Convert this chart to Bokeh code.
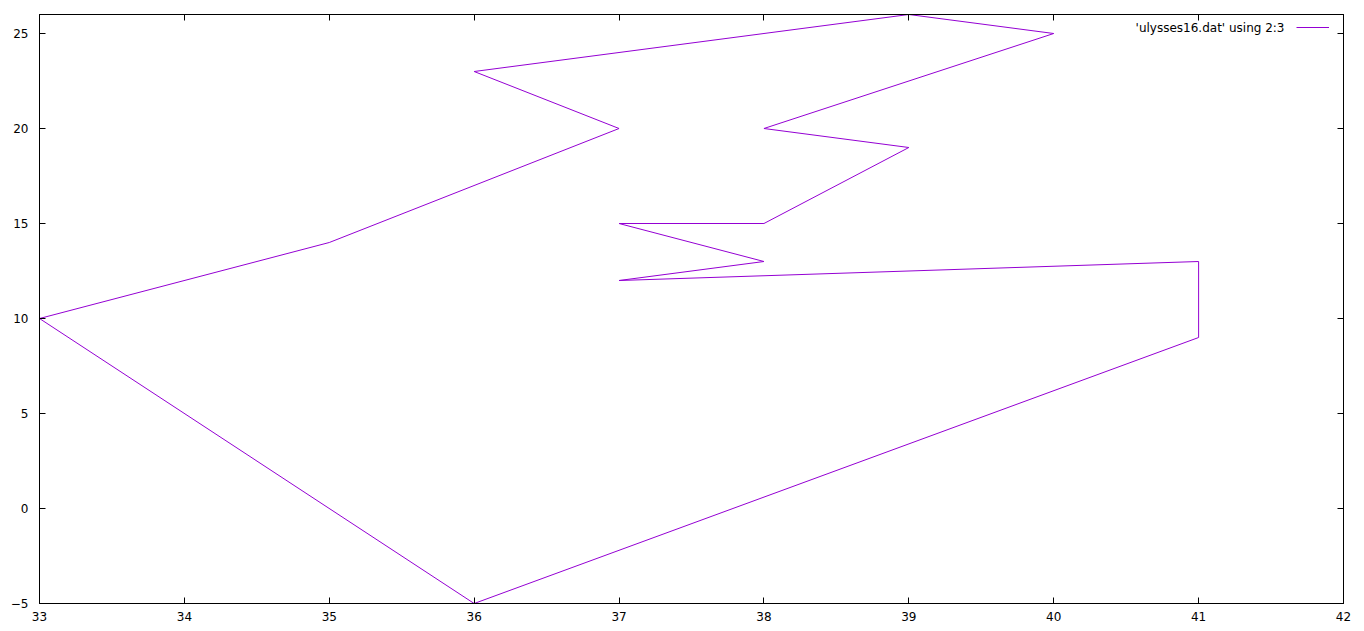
from bokeh.plotting import figure
from bokeh.models import (Range1d, LinearAxis, SingleIntervalTicker, Label, Legend, LegendItem,
                          CustomJSTickFormatter)
from bokeh.embed import file_html
from bokeh.resources import INLINE

# tour coordinates (columns 2:3 of ulysses16.dat), closed tour
xs = [33, 35, 37, 36, 39, 40, 38, 39, 38, 38, 37, 38, 37, 41, 41, 36, 33]
ys = [10, 14, 20, 23, 26, 25, 20, 19, 15, 15, 15, 13, 12, 13, 9, -5, 10]
series_label = "'ulysses16.dat' using 2:3"
x_lim = (33, 42)
y_lim = (-5, 26)

FONT = "DejaVu Sans"
COLOR = "#9400D3"

p = figure(width=1364, height=631, output_backend="svg", toolbar_location=None,
           x_range=Range1d(*x_lim), y_range=Range1d(*y_lim),
           min_border_left=39, min_border_right=21, min_border_top=14, min_border_bottom=28,
           x_axis_location=None, y_axis_location=None)
p.grid.visible = False
p.outline_line_color = "black"
p.outline_line_width = 1
p.background_fill_color = "white"
p.border_fill_color = "white"

r = p.line(xs, ys, line_color=COLOR, line_width=1)

def make_axis(ticker, labels=True, standoff=7):
    ax = LinearAxis(ticker=ticker)
    ax.axis_line_color = "black"
    ax.axis_line_width = 1
    ax.major_tick_in = 6
    ax.major_tick_out = 0
    ax.major_tick_line_color = "black"
    ax.minor_tick_line_color = None
    if labels:
        ax.major_label_text_font = FONT
        ax.major_label_text_font_size = "12px"
        ax.major_label_text_color = "black"
        ax.major_label_standoff = standoff
    else:
        ax.formatter = CustomJSTickFormatter(code="return ''")
        ax.major_label_text_font_size = "0px"
        ax.major_label_standoff = 0
    return ax

p.add_layout(make_axis(SingleIntervalTicker(interval=1), standoff=4), "below")
p.add_layout(make_axis(SingleIntervalTicker(interval=5), standoff=7), "left")
p.add_layout(make_axis(SingleIntervalTicker(interval=1), labels=False), "above")
p.add_layout(make_axis(SingleIntervalTicker(interval=5), labels=False), "right")

p.add_layout(Label(x=1245, y=576, x_units="screen", y_units="screen", text=series_label,
                   text_align="right", text_baseline="middle", text_font=FONT,
                   text_font_size="12px", text_color="black"))

leg = Legend(items=[LegendItem(label=" ", renderers=[r])], location=(1257, 570),
             glyph_width=33, glyph_height=12, label_width=0, label_height=12,
             label_standoff=0, label_text_font_size="1px", padding=0, margin=0, spacing=0,
             background_fill_alpha=0, border_line_alpha=0)
p.add_layout(leg, "center")

open("out.html", "w").write(file_html(p, INLINE))
